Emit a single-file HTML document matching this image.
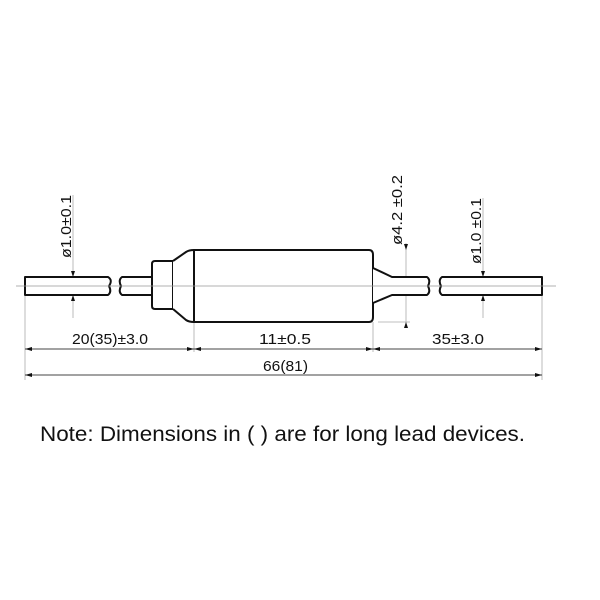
<!DOCTYPE html>
<html><head><meta charset="utf-8"><style>
html,body{margin:0;padding:0;background:#fff;}
svg{display:block;}
text{font-family:"Liberation Sans",Arial,sans-serif;fill:#111;}
</style></head><body>
<svg width="600" height="600" viewBox="0 0 600 600" xmlns="http://www.w3.org/2000/svg">
<rect width="600" height="600" fill="#fff"/>
<g fill="none" stroke="#aaa" stroke-width="0.8">
<line x1="25" y1="296" x2="25" y2="380"/>
<line x1="194" y1="322" x2="194" y2="352"/>
<line x1="373" y1="322" x2="373" y2="352"/>
<line x1="542" y1="296" x2="542" y2="380"/>
<line x1="73" y1="195" x2="73" y2="318"/>
<line x1="483" y1="198" x2="483" y2="318"/>
<line x1="406" y1="243" x2="406" y2="328"/>
<line x1="378" y1="322" x2="410" y2="322"/>
</g>
<g fill="#fff" stroke="#111" stroke-width="2" stroke-linejoin="round">
<path d="M25,277 H108 Q113,280 109,286 Q112,292 108,295 H25 Z"/>
<path d="M152,277 H122 Q118,280 121,286 Q118,292 122,295 H152"/>
<path d="M152,264 Q152,261 155,261 H173 V309 H155 Q152,309 152,306 Z"/>
<path d="M173,261 L186,252 Q189,250 194,250 V322 Q189,322 186,320 L173,309"/>
<path d="M194,250 H369 Q373,250 373,255 V317 Q373,322 369,322 H194 Z"/>
<path d="M373,268 L392,277 H427 Q431,280 428,286 Q431,292 427,295 H392 L373,303"/>
<path d="M542,277 H442 Q438,280 441,286 Q438,292 442,295 H542 Z"/>
</g>
<g stroke="#999" stroke-width="0.8"><line x1="16" y1="286" x2="556" y2="286"/></g>
<g stroke="#444" stroke-width="0.9">
<line x1="25" y1="349" x2="194" y2="349"/>
<line x1="194" y1="349" x2="373" y2="349"/>
<line x1="373" y1="349" x2="542" y2="349"/>
<line x1="25" y1="375" x2="542" y2="375"/>
</g>
<g fill="#111">
<path d="M25,349 l7,-2 v4z"/><path d="M194,349 l-7,-2 v4z"/><path d="M194,349 l7,-2 v4z"/>
<path d="M373,349 l-7,-2 v4z"/><path d="M373,349 l7,-2 v4z"/><path d="M542,349 l-7,-2 v4z"/>
<path d="M25,375 l7,-2 v4z"/><path d="M542,375 l-7,-2 v4z"/>
<path d="M73,277 l-2,-6 h4z"/><path d="M73,295 l-2,6 h4z"/>
<path d="M483,277 l-2,-6 h4z"/><path d="M483,295 l-2,6 h4z"/>
<path d="M406,250 l-2,-6 h4z"/><path d="M406,322 l-2,6 h4z"/>
</g>
<g font-size="15">
<text x="72" y="344" textLength="76" lengthAdjust="spacingAndGlyphs">20(35)±3.0</text>
<text x="259" y="344" textLength="52" lengthAdjust="spacingAndGlyphs">11±0.5</text>
<text x="432" y="344" textLength="52" lengthAdjust="spacingAndGlyphs">35±3.0</text>
<text x="263" y="371" textLength="45" lengthAdjust="spacingAndGlyphs">66(81)</text>
<text transform="translate(71,258) rotate(-90)" textLength="63" lengthAdjust="spacingAndGlyphs">ø1.0±0.1</text>
<text transform="translate(402,245) rotate(-90)" textLength="70" lengthAdjust="spacingAndGlyphs">ø4.2 ±0.2</text>
<text transform="translate(481,264) rotate(-90)" textLength="66" lengthAdjust="spacingAndGlyphs">ø1.0 ±0.1</text>
</g>
<text x="40" y="441" font-size="21" textLength="485" lengthAdjust="spacingAndGlyphs">Note: Dimensions in ( ) are for long lead devices.</text>
</svg>
</body></html>
